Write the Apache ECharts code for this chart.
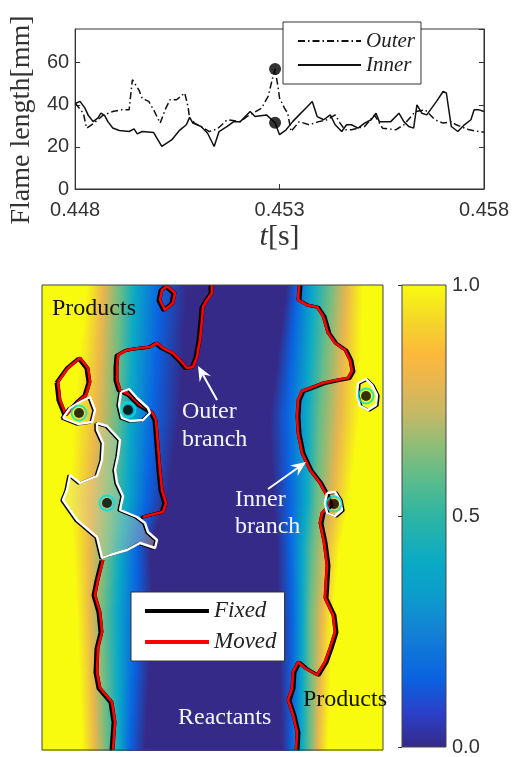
<!DOCTYPE html>
<html><head><meta charset="utf-8">
<script src="https://cdn.jsdelivr.net/npm/echarts@6.0.0/dist/echarts.min.js"></script>
<style>html,body{margin:0;padding:0;background:#fff}#c{width:512px;height:757px}</style>
</head><body><div id="c"></div>
<script>
// ---------------- top panel data ----------------
const xTicks = [0.448, 0.453, 0.458];
const yTicks = [0, 20, 40, 60];
const outerT = [0.448,0.4482,0.44828,0.44844,0.44868,0.44892,0.44912,0.44932,0.4494,0.44956,0.44964,0.4498,0.44992,0.45008,0.4502,0.45032,0.45048,0.45068,0.45076,0.4508,0.45092,0.45108,0.45128,0.45148,0.45172,0.45204,0.4522,0.45256,0.45272,0.45282,0.45289,0.45296,0.453,0.45312,0.4532,0.45328,0.45348,0.45372,0.45396,0.45416,0.45436,0.45448,0.4546,0.45476,0.45508,0.45532,0.45552,0.45584,0.45604,0.45632,0.45656,0.4568,0.457,0.4572,0.45732,0.45764,0.45788,0.458];
const outerV = [40.8,36,28.9,31,35,36.8,37.6,37.6,51.9,47,43,41.6,37.6,31.3,37.6,42.4,42.4,45.6,39.2,33.7,31.3,29.7,27.3,28.6,32.9,32,34.4,38.4,44,51.9,57,48.7,43.2,38.4,36,27.3,32,30.5,32,32.9,35.2,31.3,28.1,28.1,29.7,35.2,28.9,28.1,30.5,36.8,37.6,32.9,31.3,32,30.5,28.1,27.3,27];
const innerT = [0.448,0.44812,0.44824,0.44832,0.44844,0.44856,0.44863,0.44872,0.4488,0.44892,0.44908,0.44932,0.44944,0.44952,0.44964,0.44992,0.45012,0.45036,0.45056,0.45072,0.4508,0.45088,0.45108,0.45124,0.4514,0.45152,0.45172,0.45188,0.45204,0.45228,0.4524,0.45268,0.45289,0.453,0.45316,0.45332,0.45348,0.45364,0.4538,0.45392,0.45408,0.45424,0.45436,0.45452,0.45464,0.45476,0.45492,0.45508,0.45524,0.45536,0.45544,0.45572,0.45592,0.45604,0.45616,0.45628,0.45636,0.45648,0.4566,0.45684,0.457,0.45708,0.4572,0.45736,0.45752,0.45768,0.45776,0.45788,0.458];
const innerV = [40.6,41.6,38.4,35,32,33.8,36,35,32,29,27.8,27.3,28.6,26.2,27.3,26.8,20.2,23.3,28,30.5,34,31.3,29.7,26.5,20.2,27.3,29.7,32,32,36.8,34.4,35.2,31.5,25.8,28.1,32,35.2,38.4,41.6,34.4,32.9,35.2,30.5,27.3,30.5,30.5,28.9,31.3,32.9,36,32,32,36,32,29.7,28.9,40,36,35.2,41.6,46.3,45.6,29.7,27.3,30.5,32.9,37.6,37.6,36.8];
const markT = [0.45289, 0.45289];
const markV = [57, 31.5];

// ---------------- bottom panel data (panel units: x 0..341, y 0..465 from top) ----------------
const fieldWidth = 341, fieldHeight = 465;
const fieldLevels = [1, 0.8, 0.6, 0.4, 0.15, 0, 0, 0.15, 0.4, 0.6, 0.8, 1];
const fieldRowY = [0, 131, 215, 263, 330, 465];
const fieldRowX = [
  [45, 61, 78, 93, 118, 145, 245, 255, 271, 288, 305, 321],
  [31, 55, 75, 88, 111, 138, 228, 245, 265, 278, 298, 318],
  [28, 48, 68, 85, 105, 125, 231, 248, 265, 275, 291, 308],
  [31, 48, 65, 78, 95, 108, 235, 248, 261, 271, 285, 298],
  [35, 48, 61, 75, 95, 111, 236, 250, 261, 268, 280, 291],
  [40, 53, 65, 77, 88, 103, 240, 250, 260, 268, 276, 286]
];
// colour map sampled from the reference colour bar
const cmapPos = [0, 0.07, 0.15, 0.26, 0.33, 0.40, 0.50, 0.58, 0.65, 0.72, 0.79, 0.85, 0.92, 1];
const cmapColors = ['#352a87','#2c3ec6','#0a63e1','#1484d4','#0c9dcc','#0aaac6','#2eb5a3','#5cbc8c','#8cbd78','#c4b966','#e8b650','#fcb83c','#f5d52a','#f9fb0e'];
const colorbarTicks = [0, 0.5, 1];

const outerFrontA = [[170,0],[170,8],[165,15],[161,22],[160,35],[158,55],[155,72],[151,82],[145,83],[138,75],[131,68],[121,63],[115,58],[108,62],[98,63],[85,65],[76,70],[75,82],[75,95],[78,105],[88,110],[98,120],[110,127],[114,135],[115,147],[116,160],[118,185],[120,205],[124,218],[121,227],[108,230],[101,232]];
const outerFrontB = [[61,275],[56,295],[53,310],[58,327],[60,347],[56,363],[55,387],[58,403],[70,417],[73,437],[71,465]];
const innerFront = [[257,0],[256,15],[265,20],[275,22],[281,31],[286,48],[293,58],[303,65],[308,75],[310,86],[306,93],[295,95],[281,98],[268,103],[260,106],[256,115],[255,131],[256,148],[260,168],[268,185],[278,198],[285,211],[288,220],[280,228],[278,238],[282,257],[285,280],[283,313],[291,330],[293,347],[288,363],[283,377],[275,390],[263,383],[256,377],[251,387],[250,403],[246,415],[251,430],[255,447],[254,465]];
const redIsland = [[16,97],[26,83],[38,73],[46,83],[48,97],[44,110],[36,117],[24,130],[18,115],[16,97]];
const topLoop = [[125,1],[133,8],[131,18],[123,25],[118,15],[120,5],[125,1]];
const bigIsland = [[55,138],[65,141],[78,155],[76,171],[73,185],[75,198],[81,211],[78,225],[95,232],[103,238],[106,247],[115,255],[113,263],[98,258],[85,265],[68,270],[60,273],[55,252],[35,235],[21,215],[25,205],[28,190],[38,198],[55,191],[60,175],[61,158],[55,145],[55,138]];
const tealIsland = [[79,107],[87,104],[95,113],[106,123],[108,128],[101,135],[88,136],[80,133],[77,120],[79,107]];
const smallLoopL = [[21,133],[28,123],[38,117],[48,112],[53,125],[50,137],[36,139],[21,133]];
const smallLoopR1 = [[316,98],[324,94],[330,100],[335,110],[334,120],[326,125],[318,121],[315,110],[316,98]];
const smallLoopR2 = [[285,208],[293,207],[298,215],[300,225],[293,231],[285,228],[283,218],[285,208]];
const pocketDots = [[37,128],[86,125],[65,218],[324,111],[292,219]];

// ---------------- helpers ----------------
function hex2rgb(h){return [parseInt(h.slice(1,3),16),parseInt(h.slice(3,5),16),parseInt(h.slice(5,7),16)];}
function cmap(v){
  v = Math.max(0, Math.min(1, v));
  let i = 0;
  while (i < cmapPos.length - 2 && v > cmapPos[i+1]) i++;
  const t = (v - cmapPos[i]) / (cmapPos[i+1] - cmapPos[i]);
  const a = hex2rgb(cmapColors[i]), b = hex2rgb(cmapColors[i+1]);
  return 'rgb(' + a.map((c,k)=>Math.round(c + (b[k]-c)*t)).join(',') + ')';
}
const SERIF = '"Liberation Serif", "DejaVu Serif", serif';
const SANS = '"Liberation Sans", Arial, sans-serif';

function contour(name, data, color, width, sx, sy, z){
  return {type:'line', name, xAxisIndex:1, yAxisIndex:2, data, symbol:'none', silent:true, z,
    itemStyle:{color},
    lineStyle:{color, width, shadowColor:(sx||sy)?'#000':'rgba(0,0,0,0)', shadowOffsetX:sx||0, shadowOffsetY:sy||0, shadowBlur:0}};
}
function arrow(tip, tail){
  const dx = tip[0]-tail[0], dy = tip[1]-tail[1], L = Math.hypot(dx,dy);
  const ux = dx/L, uy = dy/L, hl = 15, hw = 6.5;
  const bx = tip[0]-ux*hl, by = tip[1]-uy*hl;
  return [
    {type:'line', shape:{x1:tail[0], y1:tail[1], x2:tip[0]-ux*9, y2:tip[1]-uy*9}, style:{stroke:'#fff', lineWidth:2}, z:50},
    {type:'polygon', shape:{points:[tip,[bx-uy*hw, by+ux*hw],[tip[0]-ux*hl*0.65, tip[1]-uy*hl*0.65],[bx+uy*hw, by-ux*hw]]}, style:{fill:'#fff'}, z:50}
  ];
}
function txt(s, x, y, color, size){
  return {type:'text', x, y, z:50, style:{text:s, fill:color, font: size + 'px ' + SERIF, textVerticalAlign:'middle', textAlign:'left'}};
}

const chart = echarts.init(document.getElementById('c'));
const option = {
  animation:false,
  backgroundColor:'#fff',
  grid:[
    {left:72, top:29, width:416, height:160, show:true, borderColor:'#333', borderWidth:1, backgroundColor:'#fff'},
    {left:42, top:285, width:341, height:465, show:true, borderColor:'#444', borderWidth:1, z:10, backgroundColor:'rgba(0,0,0,0)'},
    {left:402, top:285, width:44, height:465, show:false}
  ],
  xAxis:[
    {gridIndex:0, type:'value', min:xTicks[0], max:xTicks[2], interval:xTicks[1]-xTicks[0],
     axisLine:{show:true, lineStyle:{color:'#333'}}, axisTick:{inside:true, length:5, lineStyle:{color:'#333'}},
     splitLine:{show:false},
     axisLabel:{formatter:v=>v.toFixed(3), color:'#333', fontSize:20, fontFamily:SANS, margin:11},
     name:'{i|t}[s]', nameLocation:'middle', nameGap:33,
     nameTextStyle:{fontFamily:SERIF, fontSize:30, color:'#333', rich:{i:{fontStyle:'italic', fontFamily:SERIF, fontSize:30, color:'#333'}}}},
    {gridIndex:1, type:'value', min:0, max:fieldWidth, show:false},
    {gridIndex:2, type:'value', min:0, max:1, show:false}
  ],
  yAxis:[
    {gridIndex:0, type:'value', min:0, max:76, interval:20,
     axisLine:{show:true, lineStyle:{color:'#333'}}, axisTick:{inside:true, length:5, lineStyle:{color:'#333'}},
     splitLine:{show:false},
     axisLabel:{color:'#333', fontSize:20, fontFamily:SANS, margin:6, showMaxLabel:false},
     name:'Flame length[mm]', nameLocation:'middle', nameGap:30,
     nameTextStyle:{fontFamily:SERIF, fontSize:28, color:'#333', padding:[0,22,0,0]}},
    {gridIndex:0, type:'value', position:'right', min:0, max:76, interval:20,
     axisLine:{show:true, lineStyle:{color:'#333'}}, axisTick:{inside:true, length:5, lineStyle:{color:'#333'}},
     axisLabel:{show:false}, splitLine:{show:false}},
    {gridIndex:1, type:'value', min:0, max:fieldHeight, inverse:true, show:false},
    {gridIndex:2, type:'value', position:'right', min:colorbarTicks[0], max:colorbarTicks[2], interval:colorbarTicks[1],
     axisLine:{show:false}, axisTick:{inside:true, length:4, lineStyle:{color:'#333'}},
     splitLine:{show:false},
     axisLabel:{formatter:v=>v.toFixed(1), color:'#333', fontSize:20, fontFamily:SANS, margin:6}}
  ],
  legend:[
    {data:['Outer','Inner'], orient:'vertical', left:283, top:22, itemWidth:63, itemHeight:20, itemGap:2,
     padding:[8,6,8,14], borderColor:'#333', borderWidth:1, backgroundColor:'#fff', selectedMode:false,
     itemStyle:{opacity:0},
     textStyle:{fontFamily:SERIF, fontStyle:'italic', fontSize:21, color:'#222', lineHeight:22}},
    {data:['Fixed','Moved'], orient:'vertical', left:131, top:592, itemWidth:64, itemHeight:14, itemGap:5,
     padding:[6,8,6,12], borderColor:'#333', borderWidth:1, backgroundColor:'#fff', selectedMode:false, z:20,
     itemStyle:{opacity:0},
     lineStyle:{width:4, shadowColor:'rgba(0,0,0,0)', shadowOffsetX:0, shadowOffsetY:0},
     textStyle:{fontFamily:SERIF, fontStyle:'italic', fontSize:23, color:'#222', lineHeight:26}}
  ],
  series:[
    {type:'line', name:'Outer', xAxisIndex:0, yAxisIndex:0, symbol:'none', data:outerT.map((t,i)=>[t,outerV[i]]),
     itemStyle:{color:'#111'}, lineStyle:{color:'#111', width:1.5, type:[7,3,1.5,3]}},
    {type:'line', name:'Inner', xAxisIndex:0, yAxisIndex:0, symbol:'none', data:innerT.map((t,i)=>[t,innerV[i]]),
     itemStyle:{color:'#111'}, lineStyle:{color:'#111', width:1.5}},
    {type:'scatter', name:'marks', xAxisIndex:0, yAxisIndex:0, symbolSize:12, itemStyle:{color:'#000'},
     data:markT.map((t,i)=>[t,markV[i]]), z:5},
    // field
    {type:'custom', name:'field', xAxisIndex:1, yAxisIndex:2, silent:true, z:1,
     data:fieldRowY.slice(0,-1).map((y,i)=>[0,y]),
     renderItem:function(params, api){
       const i = params.dataIndex;
       const y0 = fieldRowY[i], y1 = fieldRowY[i+1], r0 = fieldRowX[i], r1 = fieldRowX[i+1];
       const n = Math.max(1, Math.ceil((y1-y0)/2));
       const pL = api.coord([0,0]), pR = api.coord([fieldWidth,0]);
       const children = [];
       for (let k=0;k<n;k++){
         const fm = (k+0.5)/n;
         const ya = api.coord([0, y0+(y1-y0)*k/n])[1], yb = api.coord([0, y0+(y1-y0)*(k+1)/n])[1];
         const top = Math.floor(Math.min(ya,yb)), bot = Math.ceil(Math.max(ya,yb)) + 1;
         const stops = fieldLevels.map((lv,j)=>({offset:Math.max(0,Math.min(1,(r0[j]+(r1[j]-r0[j])*fm)/fieldWidth)), color:cmap(lv)}));
         children.push({type:'rect', shape:{x:Math.floor(pL[0]), y:top, width:Math.ceil(pR[0])-Math.floor(pL[0]), height:bot-top},
           style:{fill:new echarts.graphic.LinearGradient(0,0,1,0,stops)}});
       }
       return {type:'group', children};
     }},
    // island light fill
    {type:'custom', name:'islandFill', xAxisIndex:1, yAxisIndex:2, silent:true, z:2, data:[[0,0]],
     renderItem:function(params, api){
       return {type:'polygon', shape:{points:bigIsland.map(p=>api.coord(p))}, style:{fill:'rgba(225,215,170,0.35)'}};
     }},
    contour('Fixed', outerFrontA, '#000', 3, -2, 0.5, 3),
    contour('Fixed', outerFrontB, '#000', 3, -2, 0.5, 3),
    contour('Fixed', innerFront, '#000', 3, 2, 0.5, 3),
    contour('Fixed', redIsland, '#000', 3, -2, 0.5, 3),
    contour('Fixed', topLoop, '#000', 3, -2, 0.5, 3),
    contour('Moved', outerFrontA, '#ff0000', 2.6, 0, 0, 4),
    contour('Moved', outerFrontB, '#ff0000', 2.6, 0, 0, 4),
    contour('Moved', innerFront, '#ff0000', 2.6, 0, 0, 4),
    contour('Moved', redIsland, '#ff0000', 2.6, 0, 0, 4),
    contour('Moved', topLoop, '#ff0000', 2.6, 0, 0, 4),
    contour('white', bigIsland, '#ffffff', 2.4, -1.5, 0.5, 5),
    contour('white', tealIsland, '#ffffff', 2.4, -1.5, 0.5, 5),
    contour('white', smallLoopL, '#ffffff', 2.4, -1.5, 0.5, 5),
    contour('white', smallLoopR1, '#ffffff', 2.4, 1.5, 0.5, 5),
    contour('white', smallLoopR2, '#ffffff', 2.4, 1.5, 0.5, 5),
    {type:'scatter', name:'rings', xAxisIndex:1, yAxisIndex:2, symbolSize:15, silent:true, z:6,
     itemStyle:{color:'rgba(0,0,0,0)', borderColor:'#00e0e0', borderWidth:2}, data:pocketDots},
    {type:'scatter', name:'pockets', xAxisIndex:1, yAxisIndex:2, symbolSize:10, silent:true, z:7,
     itemStyle:{color:'#000'}, data:pocketDots},
    // colorbar
    {type:'custom', name:'colorbar', xAxisIndex:2, yAxisIndex:3, silent:true, data:[[0,0]],
     renderItem:function(params, api){
       const p0 = api.coord([0,colorbarTicks[0]]), p1 = api.coord([1,colorbarTicks[2]]);
       const stops = cmapColors.map((c,i)=>({offset:cmapPos[i], color:c}));
       return {type:'rect', shape:{x:p0[0], y:p1[1], width:p1[0]-p0[0], height:p0[1]-p1[1]},
         style:{fill:new echarts.graphic.LinearGradient(0,1,0,0,stops), stroke:'#444', lineWidth:1}};
     }}
  ],
  graphic:[
    txt('Products', 52, 309, '#111', 24),
    txt('Products', 303, 700, '#111', 24),
    txt('Outer', 182, 412, '#f4f4ff', 24),
    txt('branch', 182, 440, '#f4f4ff', 24),
    txt('Inner', 235, 500, '#f4f4ff', 24),
    txt('branch', 235, 527, '#f4f4ff', 24),
    txt('Reactants', 178, 718, '#f4f4ff', 24)
  ].concat(arrow([198,366],[217,400])).concat(arrow([306,462],[268,489]))
};
chart.setOption(option);
</script>
</body></html>
